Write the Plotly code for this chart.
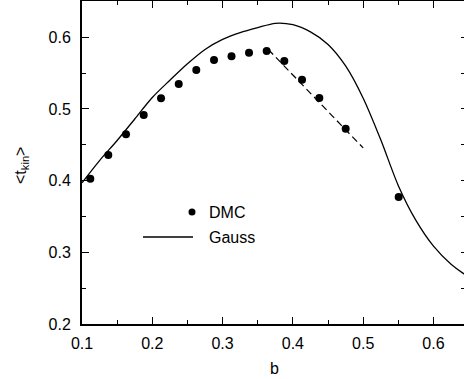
import plotly.graph_objects as go

# DMC data points
dmc_b = [0.1118, 0.1374, 0.1626, 0.1878, 0.2124, 0.2376, 0.2626, 0.2878,
         0.3127, 0.3376, 0.3627, 0.3878, 0.4130, 0.4376, 0.4751, 0.5505]
dmc_t = [0.4027, 0.4358, 0.4647, 0.4916, 0.5149, 0.5348, 0.5544, 0.5683,
         0.5736, 0.5785, 0.5809, 0.5669, 0.5408, 0.5153, 0.4725, 0.3772]

# Dashed linear fit
fit_b = [0.3650, 0.5000]
fit_t = [0.5830, 0.4456]

# Gauss curve
gauss_b = [0.100, 0.125, 0.150, 0.175, 0.200, 0.225, 0.250, 0.275, 0.300,
           0.325, 0.350, 0.375, 0.400, 0.425, 0.450, 0.475, 0.500, 0.525,
           0.550, 0.575, 0.600, 0.625, 0.650]
gauss_t = [0.397, 0.428, 0.456, 0.486, 0.516, 0.540, 0.563, 0.583, 0.597,
           0.6065, 0.6135, 0.6195, 0.6175, 0.6075, 0.590, 0.560, 0.515, 0.457,
           0.393, 0.3446, 0.3087, 0.2835, 0.2654]

x_range = [0.1, 0.6434]
y_range = [0.2, 0.6506]

FONT = "Liberation Sans, Arial, sans-serif"
AX = dict(color="black", size=16, family=FONT)

fig = go.Figure()
fig.add_trace(go.Scatter(x=gauss_b, y=gauss_t, mode="lines",
                         line=dict(color="black", width=1.3, shape="spline", smoothing=0.8),
                         showlegend=False, hoverinfo="skip"))
fig.add_trace(go.Scatter(x=fit_b, y=fit_t, mode="lines",
                         line=dict(color="black", width=1.2, dash="7px,4px"),
                         showlegend=False, hoverinfo="skip"))
fig.add_trace(go.Scatter(x=dmc_b, y=dmc_t, mode="markers",
                         marker=dict(color="black", size=8),
                         showlegend=False))
# invisible trace to activate mirror axes
fig.add_trace(go.Scatter(x=[None], y=[None], xaxis="x2", yaxis="y2",
                         showlegend=False, hoverinfo="skip"))

fig.update_layout(
    width=464, height=379,
    margin=dict(l=82, r=0, t=1, b=55),
    paper_bgcolor="white", plot_bgcolor="white",
    font=AX,
    xaxis=dict(range=x_range, showgrid=False, zeroline=False,
               showline=True, linecolor="black", linewidth=2,
               ticks="inside", ticklen=7, tickwidth=1.2, tickcolor="black",
               dtick=0.1, tick0=0.1, tickformat=".1f", tickfont=AX,
               ticklabelstandoff=4,
               minor=dict(ticks="inside", ticklen=4, dtick=0.05, tick0=0.1,
                          tickwidth=1.2, tickcolor="black", showgrid=False)),
    yaxis=dict(range=y_range, showgrid=False, zeroline=False,
               showline=True, linecolor="black", linewidth=2,
               ticks="inside", ticklen=7, tickwidth=1.2, tickcolor="black",
               dtick=0.1, tick0=0.2, tickformat=".1f", tickfont=AX,
               ticklabelstandoff=6,
               minor=dict(ticks="inside", ticklen=4, dtick=0.05, tick0=0.2,
                          tickwidth=1.2, tickcolor="black", showgrid=False)),
    xaxis2=dict(range=x_range, overlaying="x", side="top", anchor="y",
                showgrid=False, zeroline=False, showline=True,
                linecolor="black", linewidth=2,
                ticks="inside", ticklen=7, tickwidth=1.2, tickcolor="black",
                dtick=0.1, tick0=0.1, showticklabels=False,
                minor=dict(ticks="inside", ticklen=4, dtick=0.05, tick0=0.1,
                           tickwidth=1.2, tickcolor="black", showgrid=False)),
    yaxis2=dict(range=y_range, overlaying="y", side="right", anchor="x",
                showgrid=False, zeroline=False, showline=False,
                ticks="inside", ticklen=3, tickwidth=1.2, tickcolor="black",
                dtick=0.1, tick0=0.2, showticklabels=False,
                minor=dict(ticks="inside", ticklen=3, dtick=0.05, tick0=0.2,
                           tickwidth=1.2, tickcolor="black", showgrid=False)),
    annotations=[
        dict(text="b", xref="paper", yref="paper", x=(274 - 82) / 382, y=-(368 - 324) / 323,
             xanchor="center", yanchor="middle", showarrow=False, font=AX),
        dict(text="&lt;t<sub>kin</sub>&gt;", xref="paper", yref="paper",
             x=(21 - 82) / 382, y=(324 - 166) / 323, textangle=-90,
             xanchor="center", yanchor="middle", showarrow=False, font=AX),
        dict(text="DMC", xref="paper", yref="paper", x=(207 - 82) / 382,
             y=(324 - 212) / 323, xanchor="left", yanchor="middle",
             showarrow=False, font=AX),
        dict(text="Gauss", xref="paper", yref="paper", x=(207 - 82) / 382,
             y=(324 - 237) / 323, xanchor="left", yanchor="middle",
             showarrow=False, font=AX),
    ],
    shapes=[
        dict(type="line", xref="paper", yref="paper",
             x0=(143 - 82) / 382, x1=(193 - 82) / 382,
             y0=(324 - 237) / 323, y1=(324 - 237) / 323,
             line=dict(color="black", width=1.3)),
        dict(type="circle", xref="paper", yref="paper",
             xsizemode="pixel", ysizemode="pixel",
             xanchor=(192 - 82) / 382, yanchor=(324 - 212) / 323,
             x0=-3.5, x1=3.5, y0=-3.5, y1=3.5,
             fillcolor="black", line=dict(color="black", width=0)),
    ],
)

fig.write_html("out.html")
